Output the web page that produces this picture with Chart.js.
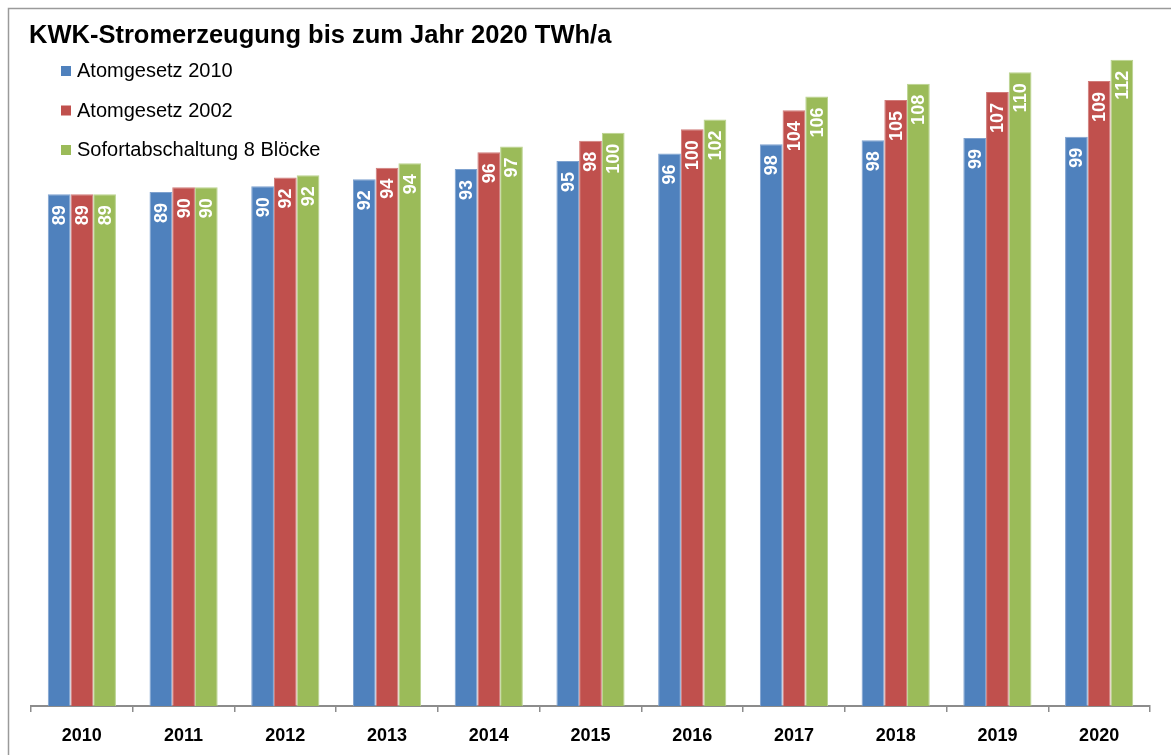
<!DOCTYPE html>
<html>
<head>
<meta charset="utf-8">
<script src="https://cdn.jsdelivr.net/npm/chart.js@4/dist/chart.umd.min.js"></script>
<style>
  html, body { margin: 0; padding: 0; background: #ffffff; }
  #wrap { width: 1171px; height: 755px; position: relative; }
  canvas { display: block; }
</style>
</head>
<body>
<div id="wrap"><canvas id="c" width="1171" height="755"></canvas></div>
<script>
const chartTitle = "KWK-Stromerzeugung bis zum Jahr 2020 TWh/a";
const years = ["2010", "2011", "2012", "2013", "2014", "2015", "2016", "2017", "2018", "2019", "2020"];
const seriesNames = ["Atomgesetz 2010", "Atomgesetz 2002", "Sofortabschaltung 8 Blöcke"];
const atomgesetz2010 = [89.0, 89.4, 90.4, 91.6, 93.4, 94.8, 96.1, 97.7, 98.4, 98.8, 99.0];
const atomgesetz2002 = [89.0, 90.2, 91.9, 93.6, 96.3, 98.3, 100.3, 103.6, 105.4, 106.8, 108.7];
const sofortabschaltung = [89.0, 90.2, 92.3, 94.4, 97.3, 99.7, 102.0, 106.0, 108.2, 110.2, 112.4];
const seriesColors = ["#4F81BD", "#C0504D", "#9BBB59"];
const seriesBorders = ["#7fa2cf", "#d07c7a", "#bad38f"];
const yMin = 0;
const yMax = 120;

const FONT = "'Liberation Sans', Arial, Helvetica, sans-serif";

const decorPlugin = {
  id: 'decor',
  beforeDraw(chart) {
    const ctx = chart.ctx;
    ctx.save();
    ctx.fillStyle = '#ffffff';
    ctx.fillRect(0, 0, chart.width, chart.height);
    ctx.strokeStyle = '#9a9a9a';
    ctx.lineWidth = 1.5;
    ctx.beginPath();
    ctx.moveTo(8.5, chart.height + 5);
    ctx.lineTo(8.5, 8.5);
    ctx.lineTo(chart.width + 5, 8.5);
    ctx.stroke();
    ctx.restore();
  },
  afterDraw(chart) {
    const ctx = chart.ctx;
    ctx.save();
    // title
    ctx.fillStyle = '#000000';
    ctx.font = "bold 25.5px " + FONT;
    ctx.textAlign = 'left';
    ctx.textBaseline = 'alphabetic';
    ctx.fillText(chartTitle, 29, 43);
    // legend
    ctx.font = "20px " + FONT;
    const baselines = [77, 116.5, 156];
    chart.data.datasets.forEach((ds, i) => {
      ctx.fillStyle = ds.backgroundColor;
      ctx.fillRect(61, baselines[i] - 11, 10, 10);
      ctx.fillStyle = '#000000';
      ctx.fillText(ds.label, 77, baselines[i]);
    });
    // data labels
    ctx.font = "bold 18px " + FONT;
    ctx.fillStyle = '#ffffff';
    ctx.textAlign = 'right';
    ctx.textBaseline = 'middle';
    chart.data.datasets.forEach((ds, i) => {
      const meta = chart.getDatasetMeta(i);
      meta.data.forEach((bar, j) => {
        const v = Math.round(ds.data[j]);
        ctx.save();
        ctx.translate(bar.x + 1, bar.y + 11);
        ctx.rotate(-Math.PI / 2);
        ctx.fillText(String(v), 0, 0);
        ctx.restore();
      });
    });
    ctx.restore();
  }
};

const allSeries = [atomgesetz2010, atomgesetz2002, sofortabschaltung];

new Chart(document.getElementById('c'), {
  type: 'bar',
  data: {
    labels: years,
    datasets: allSeries.map((d, i) => ({
      label: seriesNames[i],
      data: d,
      backgroundColor: seriesColors[i],
      borderColor: seriesBorders[i],
      borderWidth: 1,
      categoryPercentage: 0.67,
      barPercentage: 1.0
    }))
  },
  options: {
    responsive: false,
    animation: false,
    devicePixelRatio: 1,
    layout: { padding: { left: 31, right: 21, top: 16, bottom: 0 } },
    plugins: {
      legend: { display: false },
      title: { display: false },
      tooltip: { enabled: false }
    },
    scales: {
      x: {
        afterFit(scale) { scale.height = 49; },
        grid: {
          offset: true,
          drawOnChartArea: false,
          drawTicks: true,
          tickLength: 6,
          color: '#8c8c8c',
          lineWidth: 1.5
        },
        border: { display: true, color: '#8c8c8c', width: 2 },
        ticks: {
          color: '#000000',
          padding: 13,
          font: { family: FONT, size: 18, weight: 'bold' },
          maxRotation: 0,
          autoSkip: false
        }
      },
      y: {
        display: false,
        min: yMin,
        max: yMax
      }
    }
  },
  plugins: [decorPlugin]
});
</script>
</body>
</html>
